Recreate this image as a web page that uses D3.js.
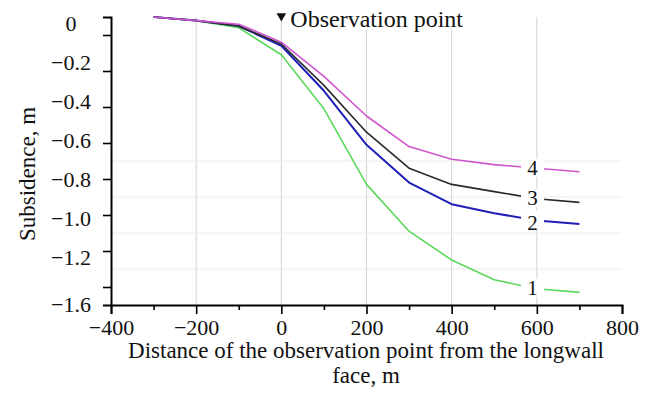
<!DOCTYPE html>
<html>
<head>
<meta charset="utf-8">
<script src="https://cdn.jsdelivr.net/npm/d3@7"></script>
<style>
  html, body { margin: 0; padding: 0; background: #fff; }
  svg { display: block; font-family: "Liberation Serif", "Times New Roman", serif; }
</style>
</head>
<body>
<svg id="chart" width="650" height="410"></svg>
<script>
// Distance of the observation point from the longwall face, m
const distance = [-300, -200, -100, 0, 100, 200, 300, 400, 500, 600, 700];

// Subsidence, m, for the four cases
const curve1 = [0, -0.02, -0.06, -0.21, -0.51, -0.93, -1.19, -1.35, -1.46, -1.51, -1.53];
const curve2 = [0, -0.02, -0.05, -0.16, -0.41, -0.71, -0.92, -1.04, -1.09, -1.13, -1.15];
const curve3 = [0, -0.02, -0.05, -0.15, -0.38, -0.64, -0.84, -0.93, -0.97, -1.01, -1.03];
const curve4 = [0, -0.02, -0.04, -0.14, -0.33, -0.55, -0.72, -0.79, -0.82, -0.84, -0.86];

const curveNames = ["1", "2", "3", "4"];
const curveColors = ["#5cd85c", "#1f1fb8", "#2a2a2a", "#cf55cf"];

// Axis ticks and labels
const xMajorTicks = [-400, -200, 0, 200, 400, 600, 800];
const xMinorTicks = [-300, -100, 100, 300, 500, 700];
const xGridValues = [-200, 0, 200, 400, 600];
const yTickMarks = [-0.1, -0.3, -0.5, -0.7, -0.9, -1.1, -1.3, -1.5];
const yLabelValues = [0, -0.2, -0.4, -0.6, -0.8, -1.0, -1.2, -1.6];
const yLabelTexts = ["0", "\u22120.2", "\u22120.4", "\u22120.6", "\u22120.8", "\u22121.0", "\u22121.2", "\u22121.6"];
const yGridValues = [-0.8, -1.0, -1.2, -1.4];

const labelAt = 590;   // distance where the curve numbers are written

const svg = d3.select("#chart");
const FONT = 22;

const x = d3.scaleLinear().domain([-400, 800]).range([111, 622]);
const y = d3.scaleLinear().domain([0, -1.6]).range([17, 305]);
// tick labels run on a slightly stretched scale of their own
const yText = d3.scaleLinear().domain([0, -1.2]).range([y(0) + 6, y(-1.2) + 24]);

// grid
const grid = svg.append("g");
grid.selectAll("line.v").data(xGridValues).join("line")
  .attr("x1", d => x(d)).attr("x2", d => x(d))
  .attr("y1", y(0)).attr("y2", y(-1.6))
  .attr("stroke", "#d2d2d2").attr("stroke-width", 1);
grid.selectAll("line.h").data(yGridValues).join("line")
  .attr("x1", x(-400)).attr("x2", x(800))
  .attr("y1", d => y(d)).attr("y2", d => y(d))
  .attr("stroke", "#ececec").attr("stroke-width", 1);

// curves
const series = [curve1, curve2, curve3, curve4];
const line = d3.line().x((d, i) => x(distance[i])).y(d => y(d));
svg.append("g").selectAll("path").data(series).join("path")
  .attr("d", d => line(d))
  .attr("fill", "none")
  .attr("stroke", (d, i) => curveColors[i])
  .attr("stroke-width", (d, i) => i === 1 ? 2 : 1.6)
  .attr("stroke-linejoin", "round");

// curve numbers, written over a white patch that breaks the line
const valueAt = (s, d) => {
  const i = d3.bisectLeft(distance, d);
  const t = (d - distance[i - 1]) / (distance[i] - distance[i - 1]);
  return s[i - 1] + t * (s[i] - s[i - 1]);
};
const labelY = s => y(valueAt(s, labelAt));
const lblLayer = svg.append("g");
lblLayer.selectAll("rect").data(series).join("rect")
  .attr("x", x(labelAt) - 11.5).attr("y", d => labelY(d) - 9)
  .attr("width", 23).attr("height", 18)
  .attr("fill", "#fff");
lblLayer.selectAll("text").data(series).join("text")
  .attr("x", x(labelAt)).attr("y", d => labelY(d))
  .attr("text-anchor", "middle")
  .attr("dy", (d, i) => i === 1 ? "0.48em" : "0.35em")
  .attr("font-size", 21).attr("fill", "#111")
  .text((d, i) => curveNames[i]);

// axes
const xAxisMajor = d3.axisBottom(x).tickValues(xMajorTicks)
  .tickFormat(d => d < 0 ? "\u2212" + Math.abs(d) : String(d))
  .tickSize(9).tickPadding(5);
const gx = svg.append("g").attr("transform", `translate(0,${y(-1.6)})`).call(xAxisMajor);
gx.select(".domain").attr("stroke", "#000").attr("stroke-width", 2);
gx.selectAll(".tick line").attr("stroke", "#000").attr("stroke-width", 1.6);
gx.selectAll(".tick text").attr("font-size", FONT).attr("font-family", "Liberation Serif").attr("fill", "#111");

const xAxisMinor = d3.axisBottom(x).tickValues(xMinorTicks).tickFormat("").tickSize(5);
const gxm = svg.append("g").attr("transform", `translate(0,${y(-1.6)})`).call(xAxisMinor);
gxm.select(".domain").remove();
gxm.selectAll(".tick line").attr("stroke", "#000").attr("stroke-width", 1.6);

const yAxis = d3.axisLeft(y).tickValues(yTickMarks).tickFormat("").tickSize(8);
const gy = svg.append("g").attr("transform", `translate(${x(-400)},0)`).call(yAxis);
gy.select(".domain").attr("stroke", "#000").attr("stroke-width", 2);
gy.selectAll(".tick line").attr("stroke", "#000").attr("stroke-width", 1.6);

svg.append("g").selectAll("text").data(yLabelValues).join("text")
  .attr("x", 71)
  .attr("y", d => d < -1.2 ? y(d) - 1 : yText(d))
  .attr("dy", "0.35em")
  .attr("text-anchor", "middle")
  .attr("font-size", FONT).attr("fill", "#111")
  .text((d, i) => yLabelTexts[i]);

// observation point marker
const title = svg.append("g");
title.append("rect").attr("x", x(0) + 6).attr("y", 2).attr("width", 190).attr("height", 28).attr("fill", "#fff");
title.append("path")
  .attr("d", d3.symbol(d3.symbolTriangle, 40)())
  .attr("transform", `translate(${x(0)},${16}) rotate(180)`)
  .attr("fill", "#111");
title.append("text")
  .attr("x", x(0) + 9).attr("y", 27)
  .attr("font-size", 24).attr("fill", "#111")
  .text("Observation point");

// axis titles
svg.append("text")
  .attr("transform", `translate(35,174) rotate(-90)`)
  .attr("text-anchor", "middle")
  .attr("font-size", 23).attr("fill", "#111")
  .text("Subsidence, m");

const caption = svg.append("text")
  .attr("text-anchor", "middle")
  .attr("font-size", 23).attr("fill", "#111");
caption.append("tspan").attr("x", 366).attr("y", 358)
  .text("Distance of the observation point from the longwall");
caption.append("tspan").attr("x", 366).attr("y", 383).text("face, m");
</script>
</body>
</html>
